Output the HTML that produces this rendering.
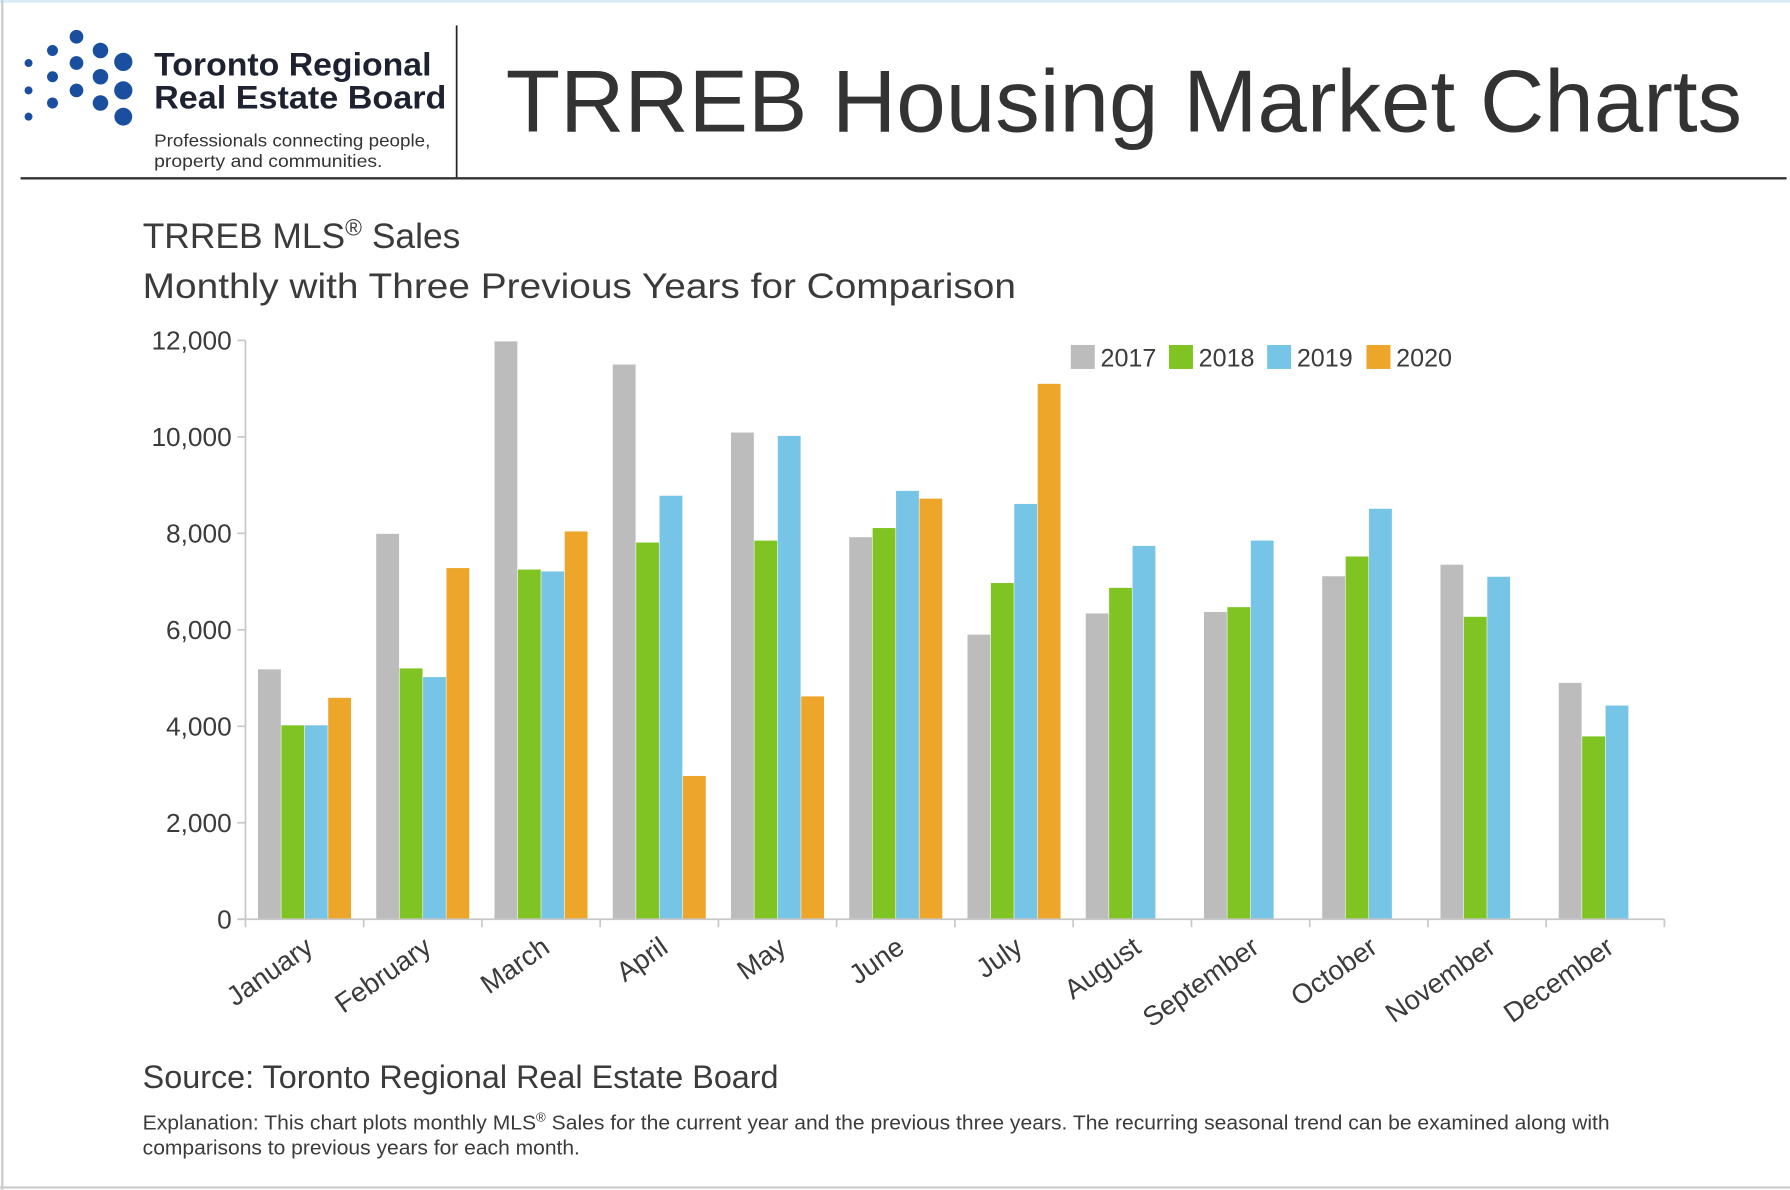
<!DOCTYPE html>
<html><head><meta charset="utf-8"><style>
html,body{margin:0;padding:0;background:#fff;width:1790px;height:1190px;overflow:hidden}
svg text{font-family:"Liberation Sans",sans-serif;fill:#3b3b3b}
</style></head><body>
<svg id="chart" width="1790" height="1190" viewBox="0 0 1568 1042" xmlns="http://www.w3.org/2000/svg">
<rect x="0" y="0" width="1568" height="1042" fill="#fff"/>
<line x1="0" y1="1" x2="1568" y2="1" stroke="#d4e8f5" stroke-width="2"/>
<line x1="2" y1="0" x2="2" y2="1042" stroke="#ccc" stroke-width="2"/>
<line x1="0" y1="1040" x2="1568" y2="1040" stroke="#ccc" stroke-width="2"/>
<g fill="#1a4fa0">
<circle cx="25" cy="55" r="3.5"/><circle cx="25" cy="79" r="3.5"/><circle cx="25" cy="102" r="3.5"/>
<circle cx="46" cy="44" r="4.8"/><circle cx="46" cy="67" r="4.8"/><circle cx="46" cy="90" r="4.8"/>
<circle cx="67" cy="32" r="6"/><circle cx="67" cy="55" r="6"/><circle cx="67" cy="79" r="6"/>
<circle cx="88" cy="44" r="6.8"/><circle cx="88" cy="67" r="6.8"/><circle cx="88" cy="90" r="6.8"/>
<circle cx="108" cy="54" r="8"/><circle cx="108" cy="79" r="8"/><circle cx="108" cy="102" r="7.8"/>
</g>
<text x="135" y="66" font-size="28" font-weight="bold" textLength="243" lengthAdjust="spacingAndGlyphs" style="fill:#1e2230">Toronto Regional</text>
<text x="135" y="95" font-size="28" font-weight="bold" textLength="256" lengthAdjust="spacingAndGlyphs" style="fill:#1e2230">Real Estate Board</text>
<text x="135" y="128" font-size="15.5" textLength="242" lengthAdjust="spacingAndGlyphs" style="fill:#333">Professionals connecting people,</text>
<text x="135" y="146" font-size="15.5" textLength="200" lengthAdjust="spacingAndGlyphs" style="fill:#333">property and communities.</text>
<line x1="400" y1="22" x2="400" y2="156" stroke="#222" stroke-width="1.5"/>
<line x1="18" y1="156" x2="1565" y2="156" stroke="#333" stroke-width="2"/>
<text x="443" y="115" font-size="77" textLength="1083" lengthAdjust="spacingAndGlyphs" style="fill:#333">TRREB Housing Market Charts</text>
<text x="125" y="217" font-size="31">TRREB MLS<tspan font-size="20" dy="-11">®</tspan><tspan dy="11"> Sales</tspan></text>
<text x="125" y="261" font-size="31" textLength="765" lengthAdjust="spacingAndGlyphs">Monthly with Three Previous Years for Comparison</text>
<g id="plot"></g>
<g id="legend"></g>
<text x="125" y="953" font-size="28" textLength="557" lengthAdjust="spacingAndGlyphs">Source: Toronto Regional Real Estate Board</text>
<text x="125" y="989" font-size="17.5" textLength="1285" lengthAdjust="spacingAndGlyphs">Explanation: This chart plots monthly MLS<tspan font-size="11" dy="-7">®</tspan><tspan dy="7"> Sales for the current year and the previous three years. The recurring seasonal trend can be examined along with</tspan></text>
<text x="125" y="1011" font-size="17.5" textLength="383" lengthAdjust="spacingAndGlyphs">comparisons to previous years for each month.</text>
</svg>
<script>
const months = ["January","February","March","April","May","June","July","August","September","October","November","December"];
const years = ["2017","2018","2019","2020"];
const s2017 = [5180,7990,11980,11500,10090,7920,5900,6340,6370,7110,7350,4900];
const s2018 = [4020,5200,7250,7810,7850,8110,6970,6870,6470,7520,6270,3790];
const s2019 = [4020,5020,7210,8780,10020,8880,8610,7740,7850,8510,7100,4430];
const s2020 = [4590,7280,8040,2970,4620,8720,11100,null,null,null,null,null];
const yTicks = [0,2000,4000,6000,8000,10000,12000];
const yTickLabels = ["0","2,000","4,000","6,000","8,000","10,000","12,000"];
const colors = ["#bbbcbb","#80c423","#76c4e6","#eea62a"];

const NS="http://www.w3.org/2000/svg";
const plot=document.getElementById('plot');
const X0=215,X1=1458,Y0=805,Y1=298,YMAX=12000;
const gw=(X1-X0)/months.length, bw=20.5, pad=11;
function y(v){return Y0-(v/YMAX)*(Y0-Y1);}
function gx(i){return X0+i*gw;}
function mk(tag,attrs){const e=document.createElementNS(NS,tag);for(const k in attrs)e.setAttribute(k,attrs[k]);return e;}

const yAxis=mk('line',{x1:X0,y1:Y1,x2:X0,y2:Y0,stroke:'#c8c8c8','stroke-width':1.5});


plot.appendChild(yAxis);
yTicks.forEach((t,i)=>{
  const tk=mk('line',{x1:X0-7,y1:y(t),x2:X0,y2:y(t),stroke:'#c8c8c8','stroke-width':1.5});
  
  
  plot.appendChild(tk);
  const tx=mk('text',{x:X0-12,y:y(t)+8,'text-anchor':'end','font-size':23});
  
  
  tx.textContent=yTickLabels[i];
  plot.appendChild(tx);
});
const series=[s2017,s2018,s2019,s2020];
months.forEach((m,i)=>{
  series.forEach((s,j)=>{
    if(s[i]==null)return;
    const r=mk('rect',{x:gx(i)+pad+j*bw,y:y(s[i]),width:bw-0.5,height:Y0-y(s[i]),fill:colors[j]});
    
    
    plot.appendChild(r);
  });
  const c=gx(i)+gw/2;
  const lb=mk('text',{x:c+9,y:Y0+28,'text-anchor':'end','font-size':24,transform:'rotate(-35 '+(c+9)+' '+(Y0+28)+')'});
  
  
  lb.textContent=m;
  plot.appendChild(lb);
});
for(let i=0;i<=months.length;i++){
  const tk=mk('line',{x1:gx(i),y1:Y0,x2:gx(i),y2:Y0+7,stroke:'#c8c8c8','stroke-width':1.5});
  
  
  plot.appendChild(tk);
}
const xAxis=mk('line',{x1:X0-7,y1:Y0,x2:X1,y2:Y0,stroke:'#c8c8c8','stroke-width':1.5});


plot.appendChild(xAxis);

const lg=document.getElementById('legend');
const lx=[938,1024,1110,1197];
years.forEach((yr,j)=>{
  const sq=mk('rect',{x:lx[j],y:302,width:21,height:21,fill:colors[j]});
  
  
  lg.appendChild(sq);
  const t=mk('text',{x:lx[j]+26,y:321,'font-size':22});
  
  
  t.textContent=yr;
  lg.appendChild(t);
});
</script>
</body></html>
